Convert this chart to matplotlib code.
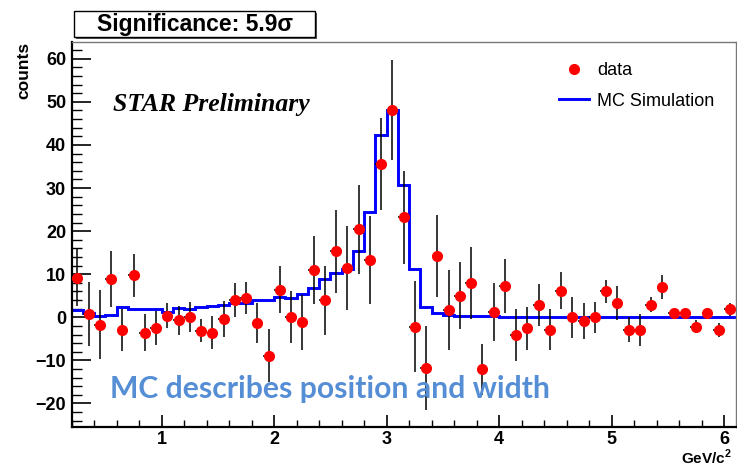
import numpy as np
import matplotlib
matplotlib.use("Agg")
import matplotlib.pyplot as plt
from matplotlib.lines import Line2D
from matplotlib.patches import Rectangle

# ---------------- data ----------------
bin_edges = np.round(np.arange(0.2, 6.1001, 0.1), 2)
mass = np.round((bin_edges[:-1] + bin_edges[1:]) / 2, 3)

counts = [9.2, 0.8, -1.7, 8.9, -2.9, 9.7, -3.6, -2.5, 0.4, -0.7,
          0.0, -3.1, -3.6, -0.4, 4.0, 4.5, -1.4, -8.9, 6.4, 0.0,
          -1.2, 11.0, 3.9, 15.3, 11.4, 20.4, 13.3, 35.6, 48.2, 23.2,
          -2.2, -11.8, 14.2, 1.6, 5.0, 8.0, -12.1, 1.2, 7.2, -4.1,
          -2.5, 2.9, -2.9, 6.2, 0.0, -0.9, 0.0, 6.0, 3.3, -2.9,
          -2.9, 2.9, 7.0, 0.9, 0.9, -2.2, 0.9, -2.9, 1.9]
errors = [6.6, 7.5, 8.1, 6.5, 4.9, 5.0, 4.3, 3.9, 2.8, 3.3,
          3.5, 2.7, 3.8, 4.1, 4.0, 3.8, 4.6, 6.1, 5.5, 6.0,
          6.3, 7.9, 8.0, 9.6, 9.8, 10.3, 10.3, 10.6, 11.6, 10.8,
          10.6, 9.7, 9.6, 9.3, 7.8, 8.4, 5.9, 6.8, 6.3, 6.0,
          5.0, 4.9, 4.8, 4.3, 4.8, 4.1, 3.6, 2.6, 3.9, 2.9,
          3.7, 1.7, 2.7, 0.7, 0.7, 1.5, 0.7, 1.6, 1.5]
mc_sim = [1.7, 0.9, 0.3, 0.6, 2.3, 1.9, 1.9, 1.9, 1.3, 2.1,
          1.9, 2.5, 2.7, 2.8, 3.3, 3.3, 4.0, 4.0, 4.6, 4.4,
          5.4, 6.8, 8.9, 10.2, 11.2, 15.3, 24.5, 42.4, 48.2, 30.6,
          11.2, 2.3, 1.0, 0.6, 0.4, 0.4, 0.2, 0.4, 0.15, 0.15,
          0.15, 0.15, 0.15, 0.15, 0.15, 0.15, 0.15, 0.15, 0.15, 0.15,
          0.15, 0.15, 0.15, 0.15, 0.15, 0.15, 0.15, 0.15, 0.15]
half_width = 0.05

x_ticks = [1, 2, 3, 4, 5, 6]
y_ticks = [-20, -10, 0, 10, 20, 30, 40, 50, 60]

W, H = 737, 468
fig = plt.figure(figsize=(W / 100, H / 100), dpi=100)
fig.patch.set_facecolor("white")
plt.rcParams["mathtext.fontset"] = "custom"
plt.rcParams["mathtext.bf"] = "Liberation Sans:bold"
plt.rcParams["mathtext.rm"] = "Liberation Sans:bold"

def fx(px):
    return px / W

def fy(py):
    return 1 - py / H

ax = fig.add_axes([fx(71.7), fy(426.7), fx(735.5) - fx(71.7), fy(42) - fy(426.7)])
ax.set_xlim(0.2, 6.1)
ax.set_ylim(-25.4, 63.9)

ax.stairs(mc_sim, bin_edges, baseline=None, color="#0000ff", lw=2.1, zorder=2)
ax.errorbar(mass, counts, yerr=errors, xerr=half_width, fmt="o", color="#ff0000",
            ms=7, mec="#ff0000", ecolor="black", elinewidth=1.1, capsize=0, zorder=3)

# axes styling (ROOT-like)
for s in ["left", "bottom"]:
    ax.spines[s].set_linewidth(1.6)
    ax.spines[s].set_color("black")
for s in ["top", "right"]:
    ax.spines[s].set_linewidth(1.0)
    ax.spines[s].set_color("#777777")

ax.set_xticks(x_ticks)
ax.set_yticks(y_ticks)
ax.set_xticks(np.arange(0.2, 6.11, 0.2), minor=True)
ax.set_yticks(np.arange(-24, 64, 2), minor=True)
ax.tick_params(which="both", direction="in", top=False, right=False, colors="black")
ax.tick_params(axis="y", which="major", length=14, width=1.2, pad=4)
ax.tick_params(axis="y", which="minor", length=7, width=1.0)
ax.tick_params(axis="x", which="major", length=9, width=1.2, pad=3)
ax.tick_params(axis="x", which="minor", length=5, width=1.0)
for lab in ax.get_xticklabels() + ax.get_yticklabels():
    lab.set_fontfamily("Liberation Sans")
    lab.set_fontweight("bold")
    lab.set_fontsize(13)

# axis titles
fig.text(fx(24), fy(42), "counts", rotation=90, ha="center", va="top",
         fontsize=12.5, fontweight="bold", family="Liberation Sans")
fig.text(fx(732), fy(467), r"GeV/c$^{\mathbf{2}}$", ha="right", va="bottom",
         fontsize=11, fontweight="bold", family="Liberation Sans")

# legend
handles = [Line2D([], [], marker="o", ls="none", color="#ff0000", ms=7),
           Line2D([], [], color="#0000ff", lw=2.1)]
leg = ax.legend(handles, ["data", "MC Simulation"], loc="upper left",
                bbox_to_anchor=(0.71, 0.99), frameon=False,
                prop={"family": "Liberation Sans", "size": 13},
                handlelength=1.65, handletextpad=0.45, labelspacing=0.75)

# STAR Preliminary
fig.text(fx(113), fy(105), "STAR Preliminary", ha="left", va="center",
         fontsize=18.5, fontweight="bold", fontstyle="italic", family="Liberation Serif")

# MC describes ...
fig.text(fx(110), fy(389), "MC describes position and width", ha="left", va="center",
         fontsize=21.7, fontweight="bold", family="Lato", color="#558ED5")

# Significance box with shadow
bx0, by0, bx1, by1 = 74, 11, 315, 37
fig.add_artist(Rectangle((fx(bx0 + 2), fy(by1 + 2)), fx(bx1 - bx0), fy(by0) - fy(by1),
                         transform=fig.transFigure, facecolor="#555555", edgecolor="none"))
fig.add_artist(Rectangle((fx(bx0), fy(by1)), fx(bx1 - bx0), fy(by0) - fy(by1),
                         transform=fig.transFigure, facecolor="white", edgecolor="black", lw=1.0))
fig.text(fx((bx0 + bx1) / 2), fy((by0 + by1) / 2), "Significance: 5.9σ", ha="center", va="center",
         fontsize=16.5, fontweight="bold", family="Liberation Sans")

fig.savefig("out.png", dpi=100)
